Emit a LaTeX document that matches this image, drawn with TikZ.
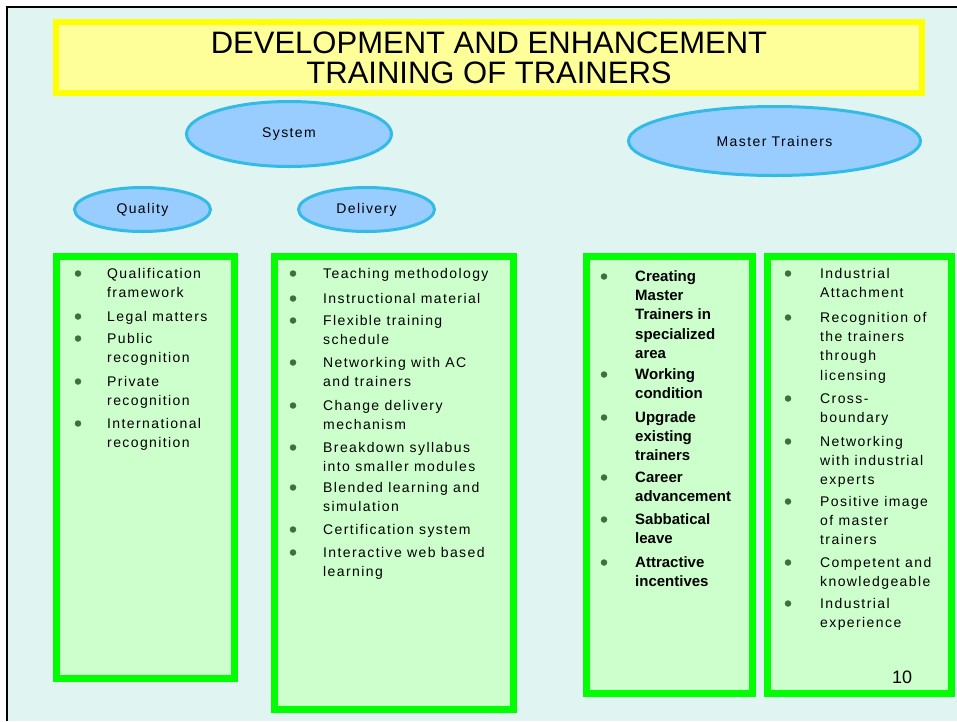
\documentclass[tikz,border=0pt]{standalone}
\usepackage{fontspec}
\setmainfont{Liberation Sans}
\newfontfamily\spaced{Liberation Sans}[LetterSpace=10]
\usetikzlibrary{shapes.geometric}
\definecolor{bgc}{RGB}{224,245,242}
\definecolor{ttlfill}{RGB}{255,255,153}
\definecolor{ttlline}{RGB}{255,255,0}
\definecolor{ellfill}{RGB}{153,204,255}
\definecolor{ellline}{RGB}{51,187,230}
\definecolor{boxfill}{RGB}{204,255,204}
\definecolor{boxline}{RGB}{0,255,0}
\definecolor{bul}{RGB}{60,112,60}
\newcommand\fstrut{\rule{0pt}{12pt}}
\begin{document}
\begin{tikzpicture}[x=1pt,y=-1pt,
  ell/.style={ellipse, draw=ellline, line width=3pt, fill=ellfill, inner sep=0pt,
    font=\spaced\fontsize{14}{16}\selectfont},
  greenbox/.style={draw=boxline, line width=7pt, fill=boxfill, inner sep=0pt},
  bulletdot/.style={circle, fill=bul, inner sep=0pt, minimum size=6.5pt},
  itemtext/.style={anchor=north west, inner sep=0pt, align=left,
    font=\spaced\fontsize{14}{19.3}\selectfont},
  bolditem/.style={anchor=north west, inner sep=0pt, align=left,
    font=\fontsize{15}{19.3}\selectfont\bfseries}]
\useasboundingbox (0,0) rectangle (957,721);
\fill[white] (0,0) rectangle (957,721);
\fill[bgc] (7,7) rectangle (957,721);
\draw[black, line width=1.2pt] (7,721) -- (7,7) -- (957,7);

% title
\node[draw=ttlline, line width=6pt, fill=ttlfill, minimum width=866pt, minimum height=71pt,
  inner sep=0pt, align=center, font=\fontsize{31}{30}\selectfont] (title) at (489,57.5)
  {DEVELOPMENT AND ENHANCEMENT\\TRAINING OF TRAINERS};

% ellipses
\node[ell, minimum width=205pt, minimum height=65pt] (system) at (289,134) {System};
\node[ell, minimum width=292pt, minimum height=69pt] (master) at (774.5,141) {Master Trainers};
\node[ell, minimum width=136pt, minimum height=44pt] (quality) at (142.5,209.5) {Quality};
\node[ell, minimum width=136pt, minimum height=44pt] (delivery) at (366.5,209.5) {Delivery};

% boxes
\node[greenbox, minimum width=178pt, minimum height=422pt] (box1) at (145.5,467.5) {};
\node[greenbox, minimum width=239pt, minimum height=453pt] (box2) at (394,483) {};
\node[greenbox, minimum width=166pt, minimum height=437pt] (box3) at (669.5,475) {};
\node[greenbox, minimum width=184pt, minimum height=437pt] (box4) at (859.5,475) {};

% box 1
\node[bulletdot] (d1a) at (78,273.5) {};
\node[itemtext] (t1a) at (107,266) {\fstrut Qualification\\framework};
\node[bulletdot] (d1b) at (78,316.5) {};
\node[itemtext] (t1b) at (107,309) {\fstrut Legal matters};
\node[bulletdot] (d1c) at (78,338.5) {};
\node[itemtext] (t1c) at (107,331) {\fstrut Public\\recognition};
\node[bulletdot] (d1d) at (78,381.5) {};
\node[itemtext] (t1d) at (107,374) {\fstrut Private\\recognition};
\node[bulletdot] (d1e) at (78,423.5) {};
\node[itemtext] (t1e) at (107,416) {\fstrut International\\recognition};

% box 2
\node[bulletdot] (d2a) at (293,273.5) {};
\node[itemtext] (t2a) at (323,266) {\fstrut Teaching methodology};
\node[bulletdot] (d2b) at (293,298.5) {};
\node[itemtext] (t2b) at (323,291) {\fstrut Instructional material};
\node[bulletdot] (d2c) at (293,320.5) {};
\node[itemtext] (t2c) at (323,313) {\fstrut Flexible training\\schedule};
\node[bulletdot] (d2d) at (293,362.5) {};
\node[itemtext] (t2d) at (323,355) {\fstrut Networking with AC\\and trainers};
\node[bulletdot] (d2e) at (293,405.5) {};
\node[itemtext] (t2e) at (323,398) {\fstrut Change delivery\\mechanism};
\node[bulletdot] (d2f) at (293,447.5) {};
\node[itemtext] (t2f) at (323,440) {\fstrut Breakdown syllabus\\into smaller modules};
\node[bulletdot] (d2g) at (293,487.5) {};
\node[itemtext] (t2g) at (323,480) {\fstrut Blended learning and\\simulation};
\node[bulletdot] (d2h) at (293,529.5) {};
\node[itemtext] (t2h) at (323,522) {\fstrut Certification system};
\node[bulletdot] (d2i) at (293,552.5) {};
\node[itemtext] (t2i) at (323,545) {\fstrut Interactive web based\\learning};

% box 3
\node[bulletdot] (d3a) at (604,276.5) {};
\node[bolditem] (t3a) at (635,269) {\fstrut Creating\\Master\\Trainers in\\specialized\\area};
\node[bulletdot] (d3b) at (604,374.5) {};
\node[bolditem] (t3b) at (635,367) {\fstrut Working\\condition};
\node[bulletdot] (d3c) at (604,417.5) {};
\node[bolditem] (t3c) at (635,410) {\fstrut Upgrade\\existing\\trainers};
\node[bulletdot] (d3d) at (604,477.5) {};
\node[bolditem] (t3d) at (635,470) {\fstrut Career\\advancement};
\node[bulletdot] (d3e) at (604,519.5) {};
\node[bolditem] (t3e) at (635,512) {\fstrut Sabbatical\\leave};
\node[bulletdot] (d3f) at (604,562.5) {};
\node[bolditem] (t3f) at (635,555) {\fstrut Attractive\\incentives};

% box 4
\node[bulletdot] (d4a) at (788,273.5) {};
\node[itemtext] (t4a) at (820,266) {\fstrut Industrial\\Attachment};
\node[bulletdot] (d4b) at (788,317.5) {};
\node[itemtext] (t4b) at (820,310) {\fstrut Recognition of\\the trainers\\through\\licensing};
\node[bulletdot] (d4c) at (788,398.5) {};
\node[itemtext] (t4c) at (820,391) {\fstrut Cross-\\boundary};
\node[bulletdot] (d4d) at (788,441.5) {};
\node[itemtext] (t4d) at (820,434) {\fstrut Networking\\with industrial\\experts};
\node[bulletdot] (d4e) at (788,501.5) {};
\node[itemtext] (t4e) at (820,494) {\fstrut Positive image\\of master\\trainers};
\node[bulletdot] (d4f) at (788,562.5) {};
\node[itemtext] (t4f) at (820,555) {\fstrut Competent and\\knowledgeable};
\node[bulletdot] (d4g) at (788,603.5) {};
\node[itemtext] (t4g) at (820,596) {\fstrut Industrial\\experience};

\node[font=\fontsize{18}{20}\selectfont, inner sep=0pt] (pagenum) at (902,677) {10};
\end{tikzpicture}
\end{document}
